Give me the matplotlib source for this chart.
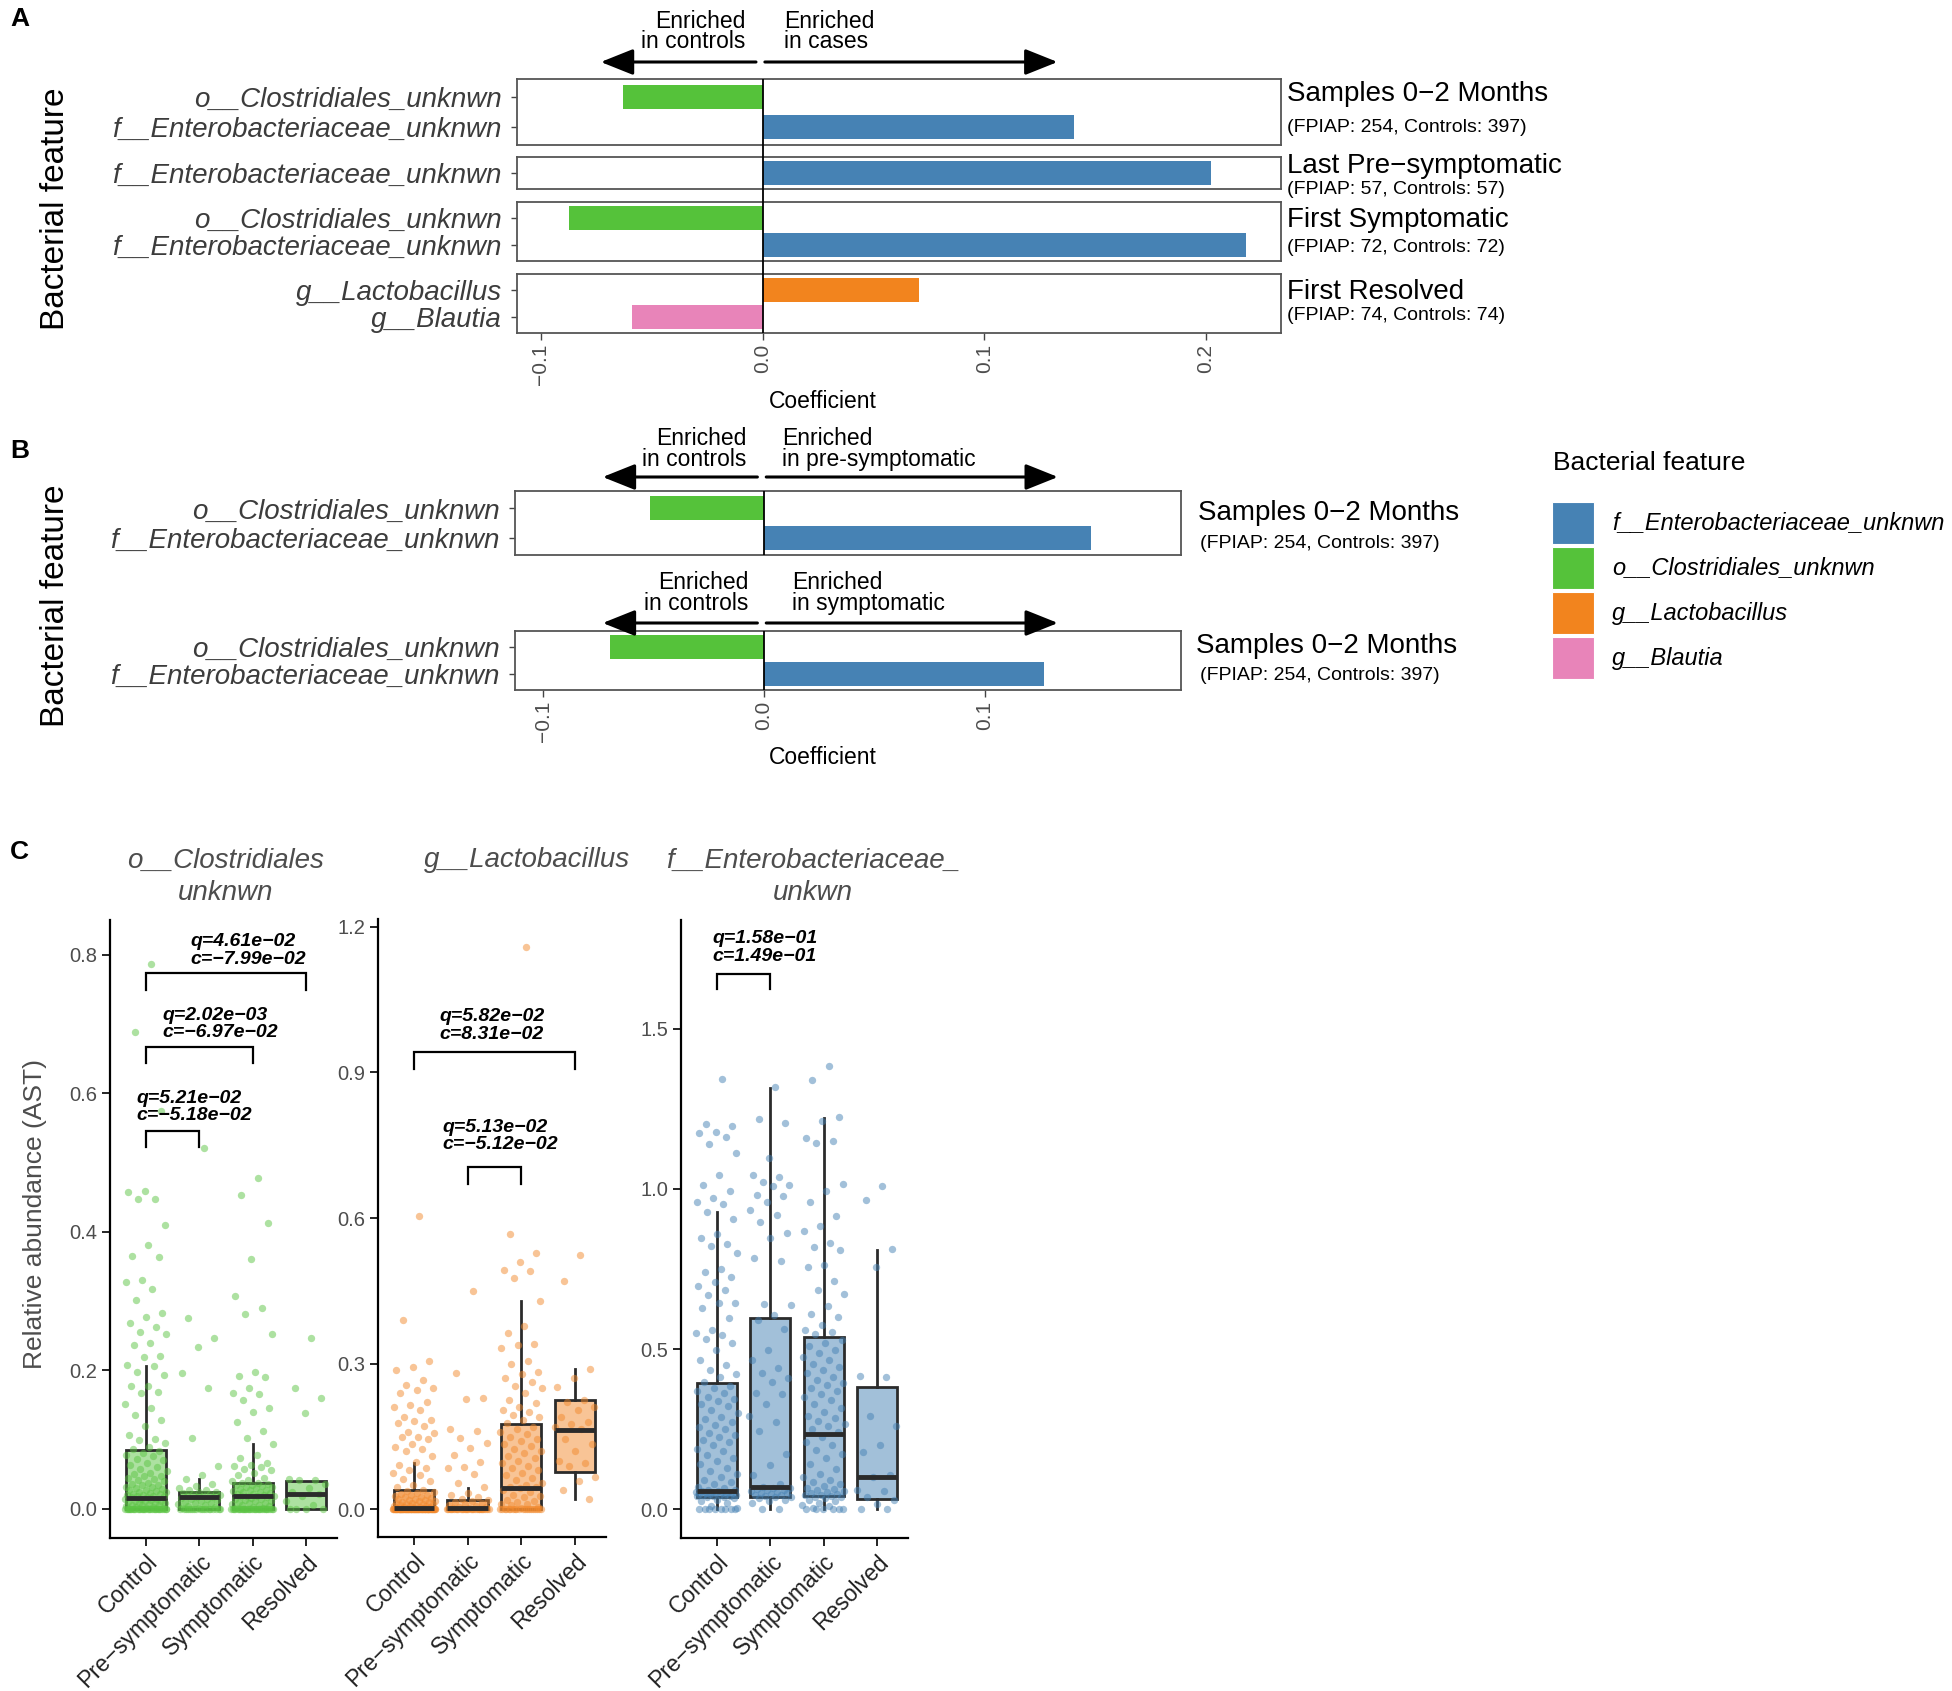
import numpy as np
import matplotlib
matplotlib.use('Agg')
import matplotlib.pyplot as plt
from matplotlib import transforms
from matplotlib.colors import to_rgba
from matplotlib.patches import Rectangle, FancyArrowPatch

plt.rcParams['font.family'] = ['Liberation Sans', 'DejaVu Sans']

W, H = 1952, 1691
fig = plt.figure(figsize=(W / 100, H / 100), dpi=100)

# ---------------- data ----------------
feat_colors = {
    'f__Enterobacteriaceae_unknwn': '#4682B4',
    'o__Clostridiales_unknwn': '#55C23A',
    'g__Lactobacillus': '#F2841E',
    'g__Blautia': '#E884B9',
}

# panel A: coefficients per time window
a_titles = ['Samples 0−2 Months', 'Last Pre−symptomatic', 'First Symptomatic', 'First Resolved']
a_subtitles = ['(FPIAP: 254, Controls: 397)', '(FPIAP: 57, Controls: 57)',
               '(FPIAP: 72, Controls: 72)', '(FPIAP: 74, Controls: 74)']
a_features = [['o__Clostridiales_unknwn', 'f__Enterobacteriaceae_unknwn'],
              ['f__Enterobacteriaceae_unknwn'],
              ['o__Clostridiales_unknwn', 'f__Enterobacteriaceae_unknwn'],
              ['g__Lactobacillus', 'g__Blautia']]
a_coefs = [[-0.063, 0.1405], [0.2023], [-0.0873, 0.218], [0.0703, -0.059]]
a_ticks = [-0.1, 0.0, 0.1, 0.2]

# panel B
b_features = ['o__Clostridiales_unknwn', 'f__Enterobacteriaceae_unknwn']
b_coefs_pre = [-0.0516, 0.148]
b_coefs_sym = [-0.0697, 0.1267]
b_ticks = [-0.1, 0.0, 0.1]
b_title = 'Samples 0−2 Months'
b_subtitle = '(FPIAP: 254, Controls: 397)'

# panel C
groups = ['Control', 'Pre−symptomatic', 'Symptomatic', 'Resolved']

clos_q1 = [0.0, 0.0, 0.0, 0.0]
clos_med = [0.016, 0.017, 0.018, 0.021]
clos_q3 = [0.085, 0.025, 0.038, 0.040]
clos_wlo = [0.0, 0.0, 0.0, 0.0]
clos_whi = [0.206, 0.043, 0.093, 0.040]
clos_ctrl = [0.786, 0.688, 0.575, 0.459, 0.458, 0.448, 0.447, 0.410, 0.381, 0.365, 0.364,
             0.330, 0.328, 0.318, 0.301, 0.283, 0.277, 0.268, 0.262, 0.256, 0.253, 0.240,
             0.236, 0.221, 0.219, 0.207, 0.206, 0.198, 0.193, 0.178, 0.177, 0.169, 0.168,
             0.151, 0.145, 0.135, 0.128, 0.119, 0.107, 0.101, 0.100, 0.095, 0.089, 0.086,
             0.083, 0.080, 0.078, 0.076, 0.072, 0.070, 0.066, 0.063, 0.060, 0.058, 0.054,
             0.052, 0.050, 0.048, 0.047, 0.045, 0.043, 0.041, 0.040, 0.038, 0.036, 0.035,
             0.034, 0.032, 0.031, 0.030, 0.029, 0.028, 0.027, 0.026, 0.025, 0.024, 0.023,
             0.022, 0.021, 0.020, 0.020, 0.019, 0.018, 0.018, 0.017, 0.017, 0.015, 0.015,
             0.014, 0.013, 0.012, 0.012, 0.011, 0.010, 0.009, 0.009, 0.008, 0.007, 0.006,
             0.006, 0.005, 0.004, 0.003, 0.003, 0.002, 0.001] + [0.0] * 30
clos_pre = [0.521, 0.276, 0.246, 0.234, 0.196, 0.175, 0.103, 0.062, 0.049, 0.043, 0.036,
            0.033, 0.030, 0.028, 0.027, 0.025, 0.024, 0.023, 0.022, 0.021, 0.020, 0.019,
            0.018, 0.017, 0.017, 0.016, 0.015, 0.014, 0.013, 0.012, 0.010, 0.009, 0.008,
            0.007, 0.005, 0.004, 0.003, 0.002, 0.001] + [0.0] * 18
clos_sym = [0.477, 0.453, 0.412, 0.361, 0.308, 0.290, 0.281, 0.253, 0.197, 0.192, 0.190,
            0.175, 0.167, 0.166, 0.157, 0.145, 0.140, 0.126, 0.112, 0.102, 0.093, 0.078,
            0.073, 0.066, 0.064, 0.062, 0.061, 0.058, 0.056, 0.052, 0.049, 0.045, 0.042,
            0.040, 0.038, 0.037, 0.036, 0.035, 0.034, 0.033, 0.032, 0.031, 0.030, 0.029,
            0.028, 0.027, 0.026, 0.025, 0.024, 0.023, 0.022, 0.021, 0.020, 0.019, 0.019,
            0.018, 0.018, 0.017, 0.016, 0.015, 0.014, 0.013, 0.012, 0.011, 0.010, 0.009,
            0.008, 0.007, 0.006, 0.005, 0.004, 0.003, 0.002, 0.001] + [0.0] * 30
clos_res = [0.247, 0.175, 0.160, 0.139, 0.043, 0.042, 0.041, 0.036, 0.030, 0.025, 0.022,
            0.018, 0.012, 0.006, 0.0, 0.0, 0.0, 0.0]

lac_q1 = [0.0, 0.0, 0.0, 0.077]
lac_med = [0.003, 0.002, 0.043, 0.164]
lac_q3 = [0.040, 0.020, 0.176, 0.225]
lac_wlo = [0.0, 0.0, 0.0, 0.022]
lac_whi = [0.095, 0.043, 0.429, 0.290]
lac_ctrl = [0.604, 0.391, 0.305, 0.293, 0.287, 0.266, 0.257, 0.250, 0.245, 0.240, 0.222,
            0.215, 0.210, 0.205, 0.190, 0.184, 0.182, 0.178, 0.172, 0.160, 0.157, 0.150,
            0.148, 0.145, 0.135, 0.129, 0.125, 0.120, 0.110, 0.098, 0.092, 0.085, 0.081,
            0.075, 0.070, 0.063, 0.058, 0.050, 0.045, 0.040, 0.037, 0.035, 0.034, 0.032,
            0.030, 0.029, 0.027, 0.026, 0.025, 0.024, 0.022, 0.021, 0.020, 0.019, 0.018,
            0.017, 0.016, 0.015, 0.014, 0.013, 0.012, 0.011, 0.010, 0.009, 0.008, 0.007,
            0.006, 0.006, 0.005, 0.004, 0.004, 0.003, 0.002, 0.002, 0.001] + [0.0] * 80
lac_pre = [0.450, 0.281, 0.229, 0.228, 0.166, 0.162, 0.147, 0.137, 0.127, 0.112, 0.097,
           0.087, 0.086, 0.072, 0.054, 0.045, 0.034, 0.030, 0.025, 0.022, 0.019, 0.017,
           0.015, 0.013, 0.011, 0.009, 0.007, 0.005, 0.004, 0.003, 0.002, 0.001] + [0.0] * 28
lac_sym = [1.158, 0.568, 0.527, 0.509, 0.492, 0.490, 0.477, 0.429, 0.377, 0.363, 0.340,
           0.338, 0.333, 0.305, 0.300, 0.282, 0.278, 0.270, 0.262, 0.255, 0.250, 0.240,
           0.225, 0.218, 0.210, 0.205, 0.200, 0.195, 0.190, 0.185, 0.178, 0.170, 0.165,
           0.160, 0.155, 0.150, 0.145, 0.140, 0.135, 0.130, 0.125, 0.120, 0.115, 0.110,
           0.105, 0.100, 0.095, 0.090, 0.085, 0.080, 0.075, 0.070, 0.065, 0.060, 0.055,
           0.050, 0.047, 0.045, 0.043, 0.040, 0.035, 0.030, 0.028, 0.025, 0.020, 0.018,
           0.015, 0.012, 0.010, 0.008, 0.005, 0.003] + [0.0] * 20
lac_res = [0.523, 0.470, 0.290, 0.270, 0.252, 0.226, 0.221, 0.210, 0.205, 0.190, 0.180,
           0.176, 0.170, 0.165, 0.144, 0.135, 0.120, 0.100, 0.095, 0.090, 0.066, 0.058,
           0.040, 0.022]

ent_q1 = [0.039, 0.039, 0.043, 0.034]
ent_med = [0.057, 0.071, 0.235, 0.100]
ent_q3 = [0.396, 0.597, 0.537, 0.383]
ent_wlo = [0.0, 0.0, 0.0, 0.0]
ent_whi = [0.927, 1.316, 1.220, 0.811]
ent_ctrl = [1.344, 1.203, 1.197, 1.177, 1.174, 1.162, 1.141, 1.113, 1.043, 1.013, 0.993,
            0.972, 0.958, 0.953, 0.927, 0.907, 0.859, 0.848, 0.827, 0.823, 0.801, 0.749,
            0.742, 0.724, 0.710, 0.697, 0.684, 0.669, 0.645, 0.643, 0.627, 0.596, 0.559,
            0.549, 0.544, 0.533, 0.520, 0.497, 0.466, 0.450, 0.434, 0.424, 0.413, 0.398,
            0.385, 0.378, 0.370, 0.362, 0.350, 0.345, 0.338, 0.330, 0.322, 0.310, 0.300,
            0.290, 0.281, 0.272, 0.265, 0.258, 0.250, 0.240, 0.232, 0.225, 0.218, 0.210,
            0.200, 0.190, 0.181, 0.170, 0.160, 0.150, 0.141, 0.130, 0.121, 0.110, 0.101,
            0.092, 0.085, 0.078, 0.070, 0.066, 0.062, 0.060, 0.058, 0.057, 0.056, 0.055,
            0.054, 0.053, 0.052, 0.051, 0.050, 0.049, 0.048, 0.047, 0.046, 0.045, 0.044,
            0.043, 0.042, 0.041, 0.040, 0.039, 0.035, 0.030, 0.025, 0.020, 0.012, 0.005,
            0.0, 0.0, 0.0, 0.0, 0.0, 0.0, 0.0, 0.0]
ent_pre = [1.317, 1.218, 1.206, 1.097, 1.045, 1.038, 1.022, 1.011, 1.009, 0.980, 0.978,
           0.959, 0.935, 0.920, 0.898, 0.862, 0.848, 0.785, 0.776, 0.640, 0.638, 0.608,
           0.590, 0.564, 0.497, 0.466, 0.440, 0.425, 0.410, 0.398, 0.363, 0.360, 0.328,
           0.291, 0.273, 0.244, 0.172, 0.140, 0.106, 0.078, 0.070, 0.068, 0.066, 0.064,
           0.062, 0.060, 0.058, 0.055, 0.052, 0.050, 0.048, 0.046, 0.044, 0.042, 0.040,
           0.038, 0.035, 0.030, 0.025, 0.020, 0.0, 0.0]
ent_sym = [1.383, 1.339, 1.223, 1.212, 1.158, 1.150, 1.143, 1.016, 0.993, 0.959, 0.917,
           0.885, 0.870, 0.832, 0.818, 0.809, 0.762, 0.757, 0.713, 0.684, 0.671, 0.634,
           0.611, 0.599, 0.575, 0.561, 0.554, 0.547, 0.530, 0.520, 0.510, 0.497, 0.488,
           0.475, 0.466, 0.455, 0.445, 0.435, 0.425, 0.413, 0.405, 0.395, 0.388, 0.380,
           0.370, 0.360, 0.351, 0.340, 0.328, 0.318, 0.305, 0.293, 0.285, 0.275, 0.268,
           0.260, 0.250, 0.243, 0.225, 0.210, 0.200, 0.185, 0.172, 0.160, 0.142, 0.127,
           0.111, 0.100, 0.092, 0.085, 0.078, 0.072, 0.068, 0.064, 0.060, 0.057, 0.054,
           0.051, 0.048, 0.046, 0.044, 0.042, 0.040, 0.038, 0.035, 0.030, 0.025, 0.020,
           0.015, 0.010, 0.005, 0.0, 0.0, 0.0, 0.0, 0.0, 0.0]
ent_res = [1.009, 0.965, 0.812, 0.755, 0.416, 0.414, 0.293, 0.260, 0.200, 0.179, 0.106,
           0.100, 0.062, 0.058, 0.040, 0.030, 0.016, 0.0, 0.0]

# brackets: (group i, group j, bar height, tip length, text x, text y, label)
clos_brackets = [(1, 4, 0.773, 0.024, 1.83, 0.806, 'q=4.61e−02\nc=−7.99e−02'),
                 (1, 3, 0.666, 0.022, 1.32, 0.700, 'q=2.02e−03\nc=−6.97e−02'),
                 (1, 2, 0.546, 0.023, 0.83, 0.580, 'q=5.21e−02\nc=−5.18e−02')]
lac_brackets = [(1, 4, 0.942, 0.035, 1.47, 0.997, 'q=5.82e−02\nc=8.31e−02'),
                (2, 3, 0.705, 0.035, 1.53, 0.769, 'q=5.13e−02\nc=−5.12e−02')]
ent_brackets = [(1, 2, 1.669, 0.044, 0.91, 1.753, 'q=1.58e−01\nc=1.49e−01')]


# ---------------- helpers ----------------
def add_ax(l, t, r, b):
    return fig.add_axes([l / W, 1 - b / H, (r - l) / W, (b - t) / H])


def ftext(x, y, s, **kw):
    return fig.text(x / W, 1 - y / H, s, **kw)


def tick_labels(vals):
    return [f'{v:.1f}'.replace('-', '−') for v in vals]


def coef_panel(t, b, left, right, xlim, feats, coefs, ticks=None):
    ax = add_ax(left, t, right, b)
    n = len(feats)
    pos = np.arange(1, n + 1)
    unit = (b - t) / (n + 0.2)
    ax.barh(pos, coefs, height=24 / unit, color=[feat_colors[f] for f in feats], zorder=2)
    ax.set_ylim(n + 0.6, 0.4)
    ax.set_xlim(*xlim)
    ax.set_yticks(pos)
    ax.set_yticklabels(feats, fontsize=20, style='italic', color='#3C3C3C')
    ax.tick_params(axis='y', length=4, width=1, color='#444444', pad=7)
    for s in ax.spines.values():
        s.set_color('#555555')
        s.set_linewidth(1.3)
    if ticks is not None:
        ax.set_xticks(ticks)
        ax.set_xticklabels(tick_labels(ticks), rotation=90, fontsize=15, color='#4D4D4D')
        ax.tick_params(axis='x', length=5, width=1, color='#444444', pad=3)
    else:
        ax.set_xticks([])
    return ax


def enrich_arrows(ax, y, y_text, left_txt, right_txt, xl, xr):
    tr = transforms.blended_transform_factory(ax.transData, fig.transFigure)
    yf = 1 - y / H
    for x0, x1 in [(-0.003, -0.073), (0.001, 0.133)]:
        fig.add_artist(FancyArrowPatch((x0, yf), (x1, yf), transform=tr,
                                       arrowstyle='-|>,head_length=1.0,head_width=0.4',
                                       mutation_scale=20, lw=2.2, color='black',
                                       shrinkA=0, shrinkB=0))
    yt = 1 - y_text / H
    fig.text(xl, yt, left_txt, transform=tr, ha='right', va='center', fontsize=16.5,
             linespacing=0.88)
    fig.text(xr, yt, right_txt, transform=tr, ha='left', va='center', fontsize=16.5,
             linespacing=0.88)


def box_panel(l, t, r, b, ylim, yticks, stats, pts, color, brackets):
    q1, med, q3, wlo, whi = stats
    ax = add_ax(l, t, r, b)
    bstats = [dict(q1=q1[i], med=med[i], q3=q3[i], whislo=wlo[i], whishi=whi[i])
              for i in range(4)]
    ax.bxp(bstats, positions=[1, 2, 3, 4], widths=0.75, showfliers=False, showcaps=False,
           patch_artist=True,
           boxprops=dict(facecolor=to_rgba(color, 0.5), edgecolor='#2B2B2B', linewidth=2),
           medianprops=dict(color='#2B2B2B', linewidth=3.5, zorder=4),
           whiskerprops=dict(color='#2B2B2B', linewidth=2))
    for i, vals in enumerate(pts):
        vals = np.asarray(vals)
        off = (((np.arange(len(vals)) + 1) * 0.6180339887) % 1 - 0.5) * 0.8
        ax.scatter(i + 1 + off, vals, s=28, color=color, alpha=0.5, linewidths=0, zorder=3)
    for i, j, y, tip, tx, ty, lab in brackets:
        ax.plot([i, i, j, j], [y - tip, y, y, y - tip], color='black', lw=1.6,
                solid_joinstyle='miter')
        ax.text(tx, ty, lab, ha='left', va='center', fontsize=14, fontweight='bold',
                style='italic', linespacing=1.05)
    ax.set_xlim(0.33, 4.58)
    ax.set_ylim(*ylim)
    ax.set_yticks(yticks)
    ax.set_yticklabels(tick_labels(yticks), fontsize=14.5, color='#4D4D4D')
    ax.set_xticks([1, 2, 3, 4])
    ax.set_xticklabels(groups, rotation=45, ha='right', rotation_mode='anchor',
                       fontsize=16.5, color='#222222')
    ax.tick_params(length=6, width=1.2, color='black', pad=3)
    for s in ['top', 'right']:
        ax.spines[s].set_visible(False)
    for s in ['left', 'bottom']:
        ax.spines[s].set_linewidth(1.6)
    return ax


# ---------------- panel A ----------------
a_rows = [(79, 145), (157, 189), (202, 261), (274, 333)]
a_xlim = (-0.1108, 0.2338)
a_axes = []
for k, (t, b) in enumerate(a_rows):
    ax = coef_panel(t, b, 517, 1281, a_xlim, a_features[k], a_coefs[k],
                    a_ticks if k == len(a_rows) - 1 else None)
    a_axes.append(ax)

a_title_y = [(94, 127), (166, 190), (220, 247), (292, 316)]
for k, (ty, sy) in enumerate(a_title_y):
    ftext(1287, ty, a_titles[k], fontsize=20, va='center')
    ftext(1287, sy, a_subtitles[k], fontsize=14, va='center')

ax_ov = add_ax(517, 79, 1281, 333)
ax_ov.set_xlim(*a_xlim)
ax_ov.axvline(0, color='black', lw=1.3)
ax_ov.axis('off')

enrich_arrows(a_axes[0], 62, 31.5, 'Enriched\nin controls', 'Enriched\nin cases',
              -0.0077, 0.0095)
ftext(823, 401, 'Coefficient', fontsize=16.5, ha='center', va='center')
ftext(56, 209, 'Bacterial feature', fontsize=24, rotation=90, ha='center', va='center')
ftext(10, 19, 'A', fontsize=19, fontweight='bold', va='center')

# ---------------- panel B ----------------
b_xlim = (-0.1127, 0.1887)
b1 = coef_panel(491, 555, 515, 1181, b_xlim, b_features, b_coefs_pre)
b2 = coef_panel(631, 690, 515, 1181, b_xlim, b_features, b_coefs_sym, b_ticks)
for ax in (b1, b2):
    ax.axvline(0, color='black', lw=1.3, zorder=3)

enrich_arrows(b1, 477, 449, 'Enriched\nin controls', 'Enriched\nin pre-symptomatic',
              -0.008, 0.008)
enrich_arrows(b2, 623, 593, 'Enriched\nin controls', 'Enriched\nin symptomatic',
              -0.007, 0.0127)
ftext(1198, 513, b_title, fontsize=20, va='center')
ftext(1200, 544, b_subtitle, fontsize=14, va='center')
ftext(1196, 646, b_title, fontsize=20, va='center')
ftext(1200, 675, b_subtitle, fontsize=14, va='center')
ftext(823, 757, 'Coefficient', fontsize=16.5, ha='center', va='center')
ftext(56, 606, 'Bacterial feature', fontsize=24, rotation=90, ha='center', va='center')
ftext(10, 451, 'B', fontsize=19, fontweight='bold', va='center')

# legend
legend_items = ['f__Enterobacteriaceae_unknwn', 'o__Clostridiales_unknwn',
                'g__Lactobacillus', 'g__Blautia']
ftext(1553, 463, 'Bacterial feature', fontsize=19, va='center')
for k, name in enumerate(legend_items):
    top = 502 + 45 * k
    fig.add_artist(Rectangle((1552 / W, 1 - (top + 42) / H), 42 / W, 42 / H,
                             transform=fig.transFigure, facecolor=feat_colors[name],
                             edgecolor='white', lw=0.8))
    ftext(1612, top + 21, name, fontsize=17, style='italic', va='center')

# ---------------- panel C ----------------
box_panel(110, 920, 337, 1538, (-0.042, 0.85), [0.0, 0.2, 0.4, 0.6, 0.8],
          (clos_q1, clos_med, clos_q3, clos_wlo, clos_whi),
          [clos_ctrl, clos_pre, clos_sym, clos_res], '#5CC544', clos_brackets)
box_panel(378, 919, 606, 1537, (-0.057, 1.216), [0.0, 0.3, 0.6, 0.9, 1.2],
          (lac_q1, lac_med, lac_q3, lac_wlo, lac_whi),
          [lac_ctrl, lac_pre, lac_sym, lac_res], '#F28A2E', lac_brackets)
box_panel(681, 920, 908, 1538, (-0.089, 1.839), [0.0, 0.5, 1.0, 1.5],
          (ent_q1, ent_med, ent_q3, ent_wlo, ent_whi),
          [ent_ctrl, ent_pre, ent_sym, ent_res], '#4682B4', ent_brackets)

ftext(226, 877, 'o__Clostridiales\nunknwn', fontsize=20, style='italic', color='#4D4D4D',
      ha='center', va='center', linespacing=1.3)
ftext(527, 860, 'g__Lactobacillus', fontsize=20, style='italic', color='#4D4D4D',
      ha='center', va='center')
ftext(813, 877, 'f__Enterobacteriaceae_\nunkwn', fontsize=20, style='italic',
      color='#4D4D4D', ha='center', va='center', linespacing=1.3)
ftext(35, 1214, 'Relative abundance (AST)', fontsize=19, rotation=90, color='#4D4D4D',
      ha='center', va='center')
ftext(10, 852, 'C', fontsize=19, fontweight='bold', va='center')

fig.savefig('out.png', dpi=100, facecolor='white')
